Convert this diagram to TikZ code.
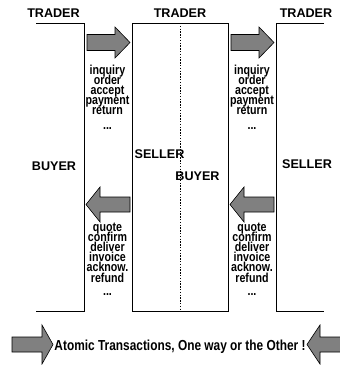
\documentclass[tikz,border=0pt]{standalone}
\usepackage{fontspec}
\setmainfont{Liberation Sans}
\newfontfamily\narrowsans[FakeStretch=0.82]{Liberation Sans}
\definecolor{arrowgray}{RGB}{128,128,128}
\begin{document}
\begin{tikzpicture}[x=1pt,y=-1pt,
  wall/.style={line width=0.9pt},
  divider/.style={line width=0.8pt, dash pattern=on 1.4pt off 1.4pt},
  blockarrow/.style={fill=arrowgray, draw=black, line width=0.6pt, line join=miter},
  role/.style={font=\fontsize{12.6}{12.6}\selectfont\bfseries, anchor=base, inner sep=0pt},
  msg/.style={font=\narrowsans\fontsize{13}{13}\selectfont\bfseries, anchor=base, inner sep=0pt},
  caption/.style={font=\narrowsans\fontsize{14.5}{14.5}\selectfont\bfseries, anchor=base, inner sep=0pt}]
\useasboundingbox (0,0) rectangle (340,365);

% trader outlines
\draw[wall] (36,23) -- (84,23) -- (84,311) -- (36,311);
\draw[wall] (132,23) rectangle (228,311);
\draw[divider] (180,23) -- (180,311);
\draw[wall] (324,23) -- (276,23) -- (276,311) -- (324,311);

% trader titles
\node[role] (t1) at (53.5,17) {TRADER};
\node[role] (t2) at (180,17) {TRADER};
\node[role] (t3) at (306,17) {TRADER};

% roles
\node[role] (b1) at (54,170) {BUYER};
\node[role] (s2) at (159.5,158.5) {SELLER};
\node[role] (b2) at (197.5,180.5) {BUYER};
\node[role] (s3) at (307,168.5) {SELLER};

% request and reply arrows
\foreach \dx in {0,144}{
  \begin{scope}[xshift=\dx]
    \draw[blockarrow] (87,34.5) -- (115,34.5) -- (115,27) -- (130,42.5)
      -- (115,58) -- (115,50.5) -- (87,50.5) -- cycle;
    \draw[blockarrow] (130,197) -- (100,197) -- (100,187) -- (86,204.5)
      -- (100,222) -- (100,212) -- (130,212) -- cycle;
  \end{scope}
}

% message lists
\foreach \cx/\tag in {107.5/a,252/b}{
  \foreach \word [count=\i] in {inquiry,order,accept,payment,return}{
    \node[msg] (req\tag\i) at (\cx,{74.5+10.1*(\i-1)}) {\word};
  }
  \node[msg] (reqdots\tag) at (\cx,129) {...};
  \foreach \word [count=\i] in {quote,confirm,deliver,invoice,acknow.,refund}{
    \node[msg] (rep\tag\i) at (\cx,{231+10.2*(\i-1)}) {\word};
  }
  \node[msg] (repdots\tag) at (\cx,295) {...};
}

% bottom legend
\draw[blockarrow] (12,337) -- (42,337) -- (42,325) -- (53,344.5)
  -- (42,364) -- (42,352) -- (12,352) -- cycle;
\draw[blockarrow] (341,337) -- (320,337) -- (320,325) -- (307,344.5)
  -- (320,364) -- (320,352) -- (341,352);
\node[caption] (legend) at (180,350) {Atomic Transactions, One way or the Other !};
\end{tikzpicture}
\end{document}
